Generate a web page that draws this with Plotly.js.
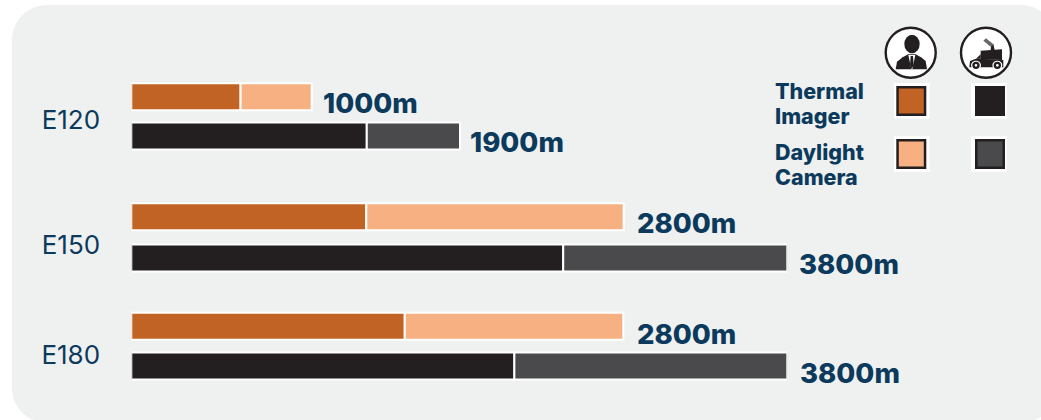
<!DOCTYPE html>
<html>
<head>
<meta charset="utf-8">
<script src="https://cdn.plot.ly/plotly-3.0.1.min.js"></script>
<style>html,body{margin:0;padding:0;background:#fff;overflow:hidden}#c{width:1041px;height:420px}</style>
</head>
<body>
<div id="c"></div>
<script>
// ---- data ----
var categories = ['E120', 'E150', 'E180'];
var thermalPerson = [633, 1361, 1584];
var daylightPerson = [412, 1491, 1266];
var thermalVehicle = [1364, 2502, 2219];
var daylightVehicle = [540, 1298, 1581];
var personLabels = ['1000m', '2800m', '2800m'];
var vehicleLabels = ['1900m', '3800m', '3800m'];
var legendLines = ['Thermal', 'Imager', 'Daylight', 'Camera'];

// ---- layout constants (page pixels: the y axis runs 0..420 down the page) ----
var W = 1041, H = 420;
var personRow = [96.8, 216.8, 326.3];
var vehicleRow = [136, 258, 366];
var categoryTick = [120, 244.5, 355];
var personLabelY = [103.3, 223.3, 334];
var vehicleLabelY = [142.3, 264, 373];
var personLabelShift = [10.5, 12.5, 12.5];
var vehicleLabelShift = [9, 10.5, 11.5];
var legendLineY = [90.5, 115.5, 151.5, 176.5];
var NAVY = '#0c3a5c', INK = '#231f20';
var COLORS = {tp: '#c26326', dp: '#f7b082', tv: '#231f20', dv: '#4a494b'};
var FONT = 'Inter, "Open Sans", sans-serif';

function sum(a, b) { return a.map(function (v, i) { return v + b[i]; }); }
function barTrace(name, x, y, color, base) {
  var t = {type: 'bar', orientation: 'h', name: name, x: x, y: y, width: 27,
    marker: {color: color, line: {color: '#ffffff', width: 2}},
    cliponaxis: false, hoverinfo: 'skip', showlegend: false};
  if (base) t.base = base;
  return t;
}
var traces = [
  barTrace('Thermal Imager, person', thermalPerson, personRow, COLORS.tp),
  barTrace('Daylight Camera, person', daylightPerson, personRow, COLORS.dp, thermalPerson),
  barTrace('Thermal Imager, vehicle', thermalVehicle, vehicleRow, COLORS.tv),
  barTrace('Daylight Camera, vehicle', daylightVehicle, vehicleRow, COLORS.dv, thermalVehicle)
];

// ---- value labels ----
var annotations = [];
function valueLabels(texts, ends, ys, shifts) {
  texts.forEach(function (t, i) {
    annotations.push({text: t, x: ends[i], y: ys[i], xref: 'x', yref: 'y', xanchor: 'left', yanchor: 'middle',
      xshift: shifts[i], showarrow: false, font: {family: FONT, size: 27.5, color: NAVY, weight: 800}, borderpad: 0});
  });
}
valueLabels(personLabels, sum(thermalPerson, daylightPerson), personLabelY, personLabelShift);
valueLabels(vehicleLabels, sum(thermalVehicle, daylightVehicle), vehicleLabelY, vehicleLabelShift);
legendLines.forEach(function (t, i) {
  annotations.push({text: t, x: 773.5 / W, y: 1 - legendLineY[i] / H, xref: 'paper', yref: 'paper', xanchor: 'left', yanchor: 'middle',
    align: 'left', showarrow: false, font: {family: FONT, size: 21.5, color: NAVY, weight: 800}, borderpad: 0});
});

// ---- decoration shapes, in page pixels converted to paper fractions ----
function fx(x) { return x / W; }
function fy(y) { return 1 - y / H; }
function pt(p) { return fx(p[0]) + ',' + fy(p[1]); }
function poly(points, color) {
  return {type: 'path', xref: 'paper', yref: 'paper', fillcolor: color, line: {width: 0},
    path: 'M' + points.map(pt).join(' L') + ' Z'};
}
function rect(x0, y0, x1, y1, fill, lineColor, lw) {
  return {type: 'rect', xref: 'paper', yref: 'paper', x0: fx(x0), x1: fx(x1), y0: fy(y1), y1: fy(y0),
    fillcolor: fill, line: {color: lineColor || fill, width: lw || 0}};
}
function circle(cx, cy, rx, ry, fill, lineColor, lw) {
  return {type: 'circle', xref: 'paper', yref: 'paper', x0: fx(cx - rx), x1: fx(cx + rx), y0: fy(cy + ry), y1: fy(cy - ry),
    fillcolor: fill, line: {color: lineColor || fill, width: lw || 0}};
}
function roundedPanel(l, t, r, b, R) {
  var k = R * 0.45;
  var d = 'M' + pt([l + R, t]) + ' L' + pt([r - R, t]) +
    ' C' + pt([r - k, t]) + ' ' + pt([r, t + k]) + ' ' + pt([r, t + R]) +
    ' L' + pt([r, b - R]) +
    ' C' + pt([r, b - k]) + ' ' + pt([r - k, b]) + ' ' + pt([r - R, b]) +
    ' L' + pt([l + R, b]) +
    ' C' + pt([l + k, b]) + ' ' + pt([l, b - k]) + ' ' + pt([l, b - R]) +
    ' L' + pt([l, t + R]) +
    ' C' + pt([l, t + k]) + ' ' + pt([l + k, t]) + ' ' + pt([l + R, t]) + ' Z';
  return {type: 'path', xref: 'paper', yref: 'paper', layer: 'below', fillcolor: '#eff1f1', line: {width: 0}, path: d};
}
function swatch(col, row, fill) {
  var wx = [894, 971][col], wy = [83, 136.3][row];
  var x = [896.3, 975][col], y = [86, 139][row];
  return [rect(wx, wy, wx + 35.5, wy + 35.5, '#ffffff'),
          rect(x + 1.25, y + 1.25, x + 28.75, y + 28.75, fill, INK, 2.5)];
}
// icon coordinates follow a 3x grid anchored at (740,10)
function z(p) { return [740 + p[0] / 3, 10 + p[1] / 3]; }
function zpoly(points, color) { return poly(points.map(z), color); }
function zcirc(x, y, rx, ry, color) { var c = z([x, y]); return circle(c[0], c[1], rx / 3, ry / 3, color); }

var shapes = [roundedPanel(12, 5, 1056, 423, 35)];
shapes = shapes.concat(swatch(0, 0, COLORS.tp), swatch(1, 0, COLORS.tv), swatch(0, 1, COLORS.dp), swatch(1, 1, COLORS.dv));
shapes.push(circle(910.7, 52.7, 25, 25, '#ffffff', INK, 2.4));
shapes.push(circle(986, 52.7, 25, 25, '#ffffff', INK, 2.4));
// person
shapes.push(zcirc(516, 102, 23, 28, INK));
shapes.push(zpoly([[467,178],[471,155],[488,142],[505,133],[527,133],[543,142],[557,153],[561,178]], INK));
shapes.push(zpoly([[505,135],[526,135],[517,178],[514,178]], '#ffffff'));
shapes.push(zpoly([[512,138],[519,138],[521,165],[515,177],[510,165]], INK));
// vehicle
shapes.push(zpoly([[722,148],[722,122],[786,118],[786,150]], INK));
shapes.push(zpoly([[688,172],[690,153],[708,146],[722,146],[790,150],[790,172]], INK));
shapes.push(zpoly([[708,146],[722,133],[722,146]], INK));
shapes.push(zpoly([[752,120],[754,102],[760,102],[764,120]], INK));
shapes.push(zpoly([[730,92],[738,85],[762,104],[752,110]], '#6a6768'));
shapes.push(zcirc(708, 166, 15, 14, '#ffffff'));
shapes.push(zcirc(772, 166, 15, 14, '#ffffff'));
shapes.push(zcirc(708, 166, 11, 11, INK));
shapes.push(zcirc(772, 166, 11, 11, INK));
shapes.push(zcirc(708, 166, 4, 4, '#ffffff'));
shapes.push(zcirc(772, 166, 4, 4, '#ffffff'));

var layout = {
  width: W, height: H, margin: {l: 0, r: 0, t: 0, b: 0},
  paper_bgcolor: 'rgba(0,0,0,0)', plot_bgcolor: 'rgba(0,0,0,0)',
  barmode: 'overlay', showlegend: false,
  xaxis: {domain: [131.3 / W, 787.3 / W], range: [0, 3800], visible: false, fixedrange: true},
  yaxis: {domain: [0, 1], range: [H, 0], tickmode: 'array', tickvals: categoryTick, ticktext: categories,
    showgrid: false, zeroline: false, showline: false, ticks: 'outside', ticklen: 25, tickcolor: 'rgba(0,0,0,0)',
    tickfont: {family: FONT, size: 26, color: NAVY}, fixedrange: true, automargin: false},
  shapes: shapes, annotations: annotations
};
Plotly.newPlot('c', traces, layout, {displayModeBar: false, staticPlot: true});
</script>
</body>
</html>
